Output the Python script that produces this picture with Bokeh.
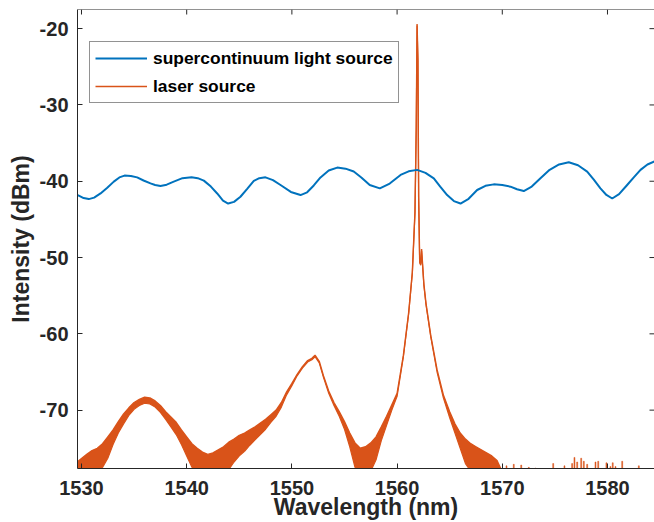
import math
from bokeh.plotting import figure
from bokeh.models import FixedTicker, Range1d, Legend, LegendItem, Span
from bokeh.embed import file_html
from bokeh.resources import INLINE

# ---------------- data ----------------
sc_x = [1529.65, 1530.2, 1530.69, 1531.2, 1531.81, 1532.45, 1533.07, 1533.6, 1534.09, 1534.7,
        1535.29, 1535.9, 1536.56, 1537.0, 1537.51, 1538.1, 1538.77, 1539.6, 1540.46, 1541.05,
        1541.63, 1542.3, 1542.90, 1543.45, 1543.94, 1544.5, 1545.11, 1545.75, 1546.38, 1546.9,
        1547.49, 1548.2, 1548.92, 1549.9, 1550.82, 1551.45, 1552.08, 1552.72, 1553.5, 1554.31,
        1555.1, 1555.88, 1556.6, 1557.4, 1558.36, 1559.3, 1560.33, 1561.1, 1561.91, 1562.7,
        1563.49, 1564.1, 1564.76, 1565.4, 1566.03, 1566.8, 1567.61, 1568.4, 1569.19, 1570.0,
        1570.78, 1571.4, 1572.04, 1572.8, 1573.63, 1574.5, 1575.4, 1576.32, 1577.2, 1578.07,
        1578.7, 1579.33, 1579.9, 1580.45, 1581.1, 1581.87, 1582.5, 1583.14, 1583.8, 1584.47]
sc_y = [-41.81, -42.2, -42.34, -42.15, -41.60, -40.85, -40.05, -39.5, -39.26, -39.3,
        -39.49, -39.9, -40.28, -40.5, -40.62, -40.45, -40.05, -39.6, -39.49, -39.6,
        -39.92, -40.7, -41.60, -42.55, -42.92, -42.7, -42.03, -41.0, -39.96, -39.6,
        -39.49, -39.85, -40.49, -41.4, -41.81, -41.45, -40.55, -39.5, -38.6, -38.21,
        -38.35, -38.73, -39.5, -40.5, -40.94, -40.3, -39.17, -38.7, -38.51, -38.9,
        -39.62, -40.7, -41.81, -42.6, -42.92, -42.3, -41.15, -40.6, -40.41, -40.5,
        -40.71, -41.05, -41.28, -40.7, -39.62, -38.5, -37.8, -37.51, -37.9, -38.73,
        -39.8, -40.94, -41.8, -42.26, -41.7, -40.49, -39.5, -38.51, -37.8, -37.41]

laser_x = [1529.6, 1530.5, 1531.0, 1531.5, 1532.0, 1532.5, 1533.0, 1533.5, 1534.0, 1534.5,
           1535.0, 1535.5, 1536.0, 1536.5, 1537.0, 1537.5, 1538.0, 1538.5, 1539.0, 1539.5,
           1540.0, 1540.5, 1541.0, 1541.5, 1542.0, 1542.5, 1543.0, 1543.5, 1544.0, 1544.5,
           1545.0, 1545.5, 1546.0, 1546.5, 1547.0, 1547.5, 1548.0, 1548.5, 1549.0, 1549.5,
           1550.0, 1550.5, 1551.0, 1551.5, 1551.9, 1552.2, 1552.6, 1553.0, 1553.5, 1554.0,
           1554.5, 1555.0, 1555.5, 1556.0, 1556.5, 1557.0, 1557.5, 1558.0, 1558.5, 1559.0,
           1559.5, 1560.0, 1560.6, 1561.1, 1561.45, 1561.7, 1561.82, 1561.9, 1561.98, 1562.05,
           1562.15, 1562.25, 1562.33, 1562.42, 1562.55, 1562.75, 1563.2, 1563.8, 1564.4, 1565.0,
           1565.5, 1566.0, 1566.5, 1567.0, 1567.5, 1568.0, 1568.5, 1569.0, 1569.5, 1569.9]
laser_upper = [-76.8, -75.8, -75.3, -75.0, -74.4, -73.5, -72.6, -71.5, -70.5, -69.7,
               -69.0, -68.6, -68.3, -68.4, -68.8, -69.4, -70.2, -70.9, -71.6, -72.6,
               -73.5, -74.4, -75.0, -75.5, -75.8, -75.6, -75.2, -74.8, -74.2, -73.8,
               -73.3, -73.0, -72.6, -72.2, -71.7, -71.2, -70.6, -70.0, -69.0, -67.6,
               -66.5, -65.3, -64.3, -63.5, -63.2, -62.8, -63.6, -65.5, -67.5, -69.0,
               -70.2, -71.5, -73.0, -74.3, -75.0, -74.8, -74.3, -73.5, -72.2, -70.8,
               -69.3, -67.8, -62.8, -57.2, -51.9, -44.0, -33.0, -19.4, -24.0, -42.0,
               -50.5, -50.8, -48.9, -50.8, -53.5, -56.0, -60.2, -64.7, -68.0, -70.2,
               -71.8, -73.0, -73.8, -74.4, -74.8, -75.2, -75.6, -76.0, -76.6, -77.8]
laser_lower = [-78.0, -78.0, -78.0, -78.0, -77.5, -76.3, -74.5, -73.0, -71.8, -70.7,
               -69.9, -69.4, -69.1, -69.2, -69.6, -70.3, -71.2, -72.2, -73.2, -74.5,
               -76.0, -77.5, -78.0, -78.0, -78.0, -78.0, -78.0, -78.0, -77.8, -76.8,
               -76.0, -75.4, -74.6, -73.9, -73.2, -72.5, -71.6, -70.8, -69.6, -68.0,
               -66.8, -65.5, -64.5, -63.7, -63.4, -63.0, -63.8, -65.7, -67.8, -69.4,
               -70.8, -72.5, -74.8, -77.5, -78.0, -78.0, -78.0, -76.5, -74.0, -72.0,
               -70.0, -68.2, -63.0, -57.4, -52.1, -44.2, -33.2, -19.6, -24.2, -42.2,
               -50.7, -51.0, -49.1, -51.0, -53.7, -56.2, -60.4, -65.0, -68.4, -71.0,
               -73.0, -75.0, -77.0, -78.0, -78.0, -78.0, -78.0, -78.0, -78.0, -78.0]

spike_x = [1570.4, 1571.09, 1571.80, 1572.52, 1573.16, 1574.84, 1575.91, 1576.64, 1576.86,
           1577.12, 1577.50, 1577.75, 1578.07, 1578.86, 1579.12, 1579.90, 1580.28, 1580.50,
           1580.76, 1581.40, 1582.98]
spike_top = [-77.3, -77.1, -77.2, -77.5, -77.6, -77.0, -77.3, -77.0, -76.2,
             -76.8, -76.3, -76.7, -77.1, -76.8, -76.7, -76.9, -77.4, -76.9,
             -77.4, -76.7, -77.3]
floor_level = -78.0

x_ticks = [1530, 1540, 1550, 1560, 1570, 1580]
x_tick_labels = ["1530", "1540", "1550", "1560", "1570", "1580"]
y_ticks = [-70, -60, -50, -40, -30, -20]
y_tick_labels = ["-70", "-60", "-50", "-40", "-30", "-20"]

series_names = ["supercontinuum light source", "laser source"]

X_START, X_END = 1529.62, 1584.47
Y_START, Y_END = -77.65, -17.49

BLUE = "#0072BD"
ORANGE = "#D95319"
AX = "#262626"
FONT = "Liberation Sans"

p = figure(width=654, height=522, output_backend="svg", toolbar_location=None,
           x_range=Range1d(X_START, X_END), y_range=Range1d(Y_START, Y_END),
           min_border_left=77, min_border_right=0, min_border_top=9, min_border_bottom=10)
p.outline_line_color = None
p.xgrid.visible = False
p.ygrid.visible = False
p.background_fill_color = "white"
p.border_fill_color = "white"

# laser band
p.varea(x=laser_x, y1=laser_lower, y2=laser_upper, fill_color=ORANGE, fill_alpha=1.0)
laser_line = p.line(laser_x, laser_upper, line_color=ORANGE, line_width=1.4)
p.line(laser_x, laser_lower, line_color=ORANGE, line_width=1.2)
p.vbar(x=spike_x, width=0.09, bottom=floor_level, top=spike_top,
       fill_color=ORANGE, line_color=ORANGE, line_width=0.5)

sc_line = p.line(sc_x, sc_y, line_color=BLUE, line_width=2)

# box: top border and inward ticks on top / right
p.add_layout(Span(location=Y_END, dimension="width", line_color=AX, line_width=1))
p.ray(x=x_ticks, y=[Y_END] * len(x_ticks), length=5, length_units="screen",
      angle=-math.pi / 2, line_color=AX, line_width=1)
p.ray(x=[X_END] * len(y_ticks), y=y_ticks, length=5, length_units="screen",
      angle=math.pi, line_color=AX, line_width=1)

def style_axis(ax):
    ax.axis_line_color = AX
    ax.axis_line_width = 1
    ax.major_tick_line_color = AX
    ax.major_tick_in = 5
    ax.major_tick_out = 0
    ax.minor_tick_line_color = None
    ax.major_label_text_font = FONT
    ax.major_label_text_font_style = "bold"
    ax.major_label_text_color = AX
    ax.major_label_text_font_size = "20px"
    ax.axis_label_text_font = FONT
    ax.axis_label_text_font_style = "bold"
    ax.axis_label_text_color = AX

xa = p.xaxis[0]
xa.ticker = FixedTicker(ticks=x_ticks)
xa.major_label_overrides = dict(zip(x_ticks, x_tick_labels))
style_axis(xa)
xa.major_label_standoff = 12
xa.axis_label = "Wavelength (nm)"
xa.axis_label_text_font_size = "23px"
xa.axis_label_standoff = -4

ya = p.yaxis[0]
ya.ticker = FixedTicker(ticks=y_ticks)
ya.major_label_overrides = dict(zip(y_ticks, y_tick_labels))
style_axis(ya)
ya.major_label_standoff = 9
ya.axis_label = "Intensity (dBm)"
ya.axis_label_text_font_size = "23px"
ya.axis_label_standoff = 3

legend = Legend(items=[LegendItem(label=series_names[0], renderers=[sc_line]),
                       LegendItem(label=series_names[1], renderers=[laser_line])],
                location=(12, 365))
legend.label_text_font = FONT
legend.label_text_font_style = "bold"
legend.label_text_font_size = "17.4px"
legend.label_text_color = "black"
legend.border_line_color = AX
legend.border_line_width = 1.5
legend.background_fill_color = "white"
legend.background_fill_alpha = 1
legend.glyph_width = 52
legend.glyph_height = 22
legend.label_height = 22
legend.label_standoff = 6
legend.spacing = 6
legend.padding = 5
legend.margin = 0
p.add_layout(legend)

open("out.html", "w").write(file_html(p, INLINE))
